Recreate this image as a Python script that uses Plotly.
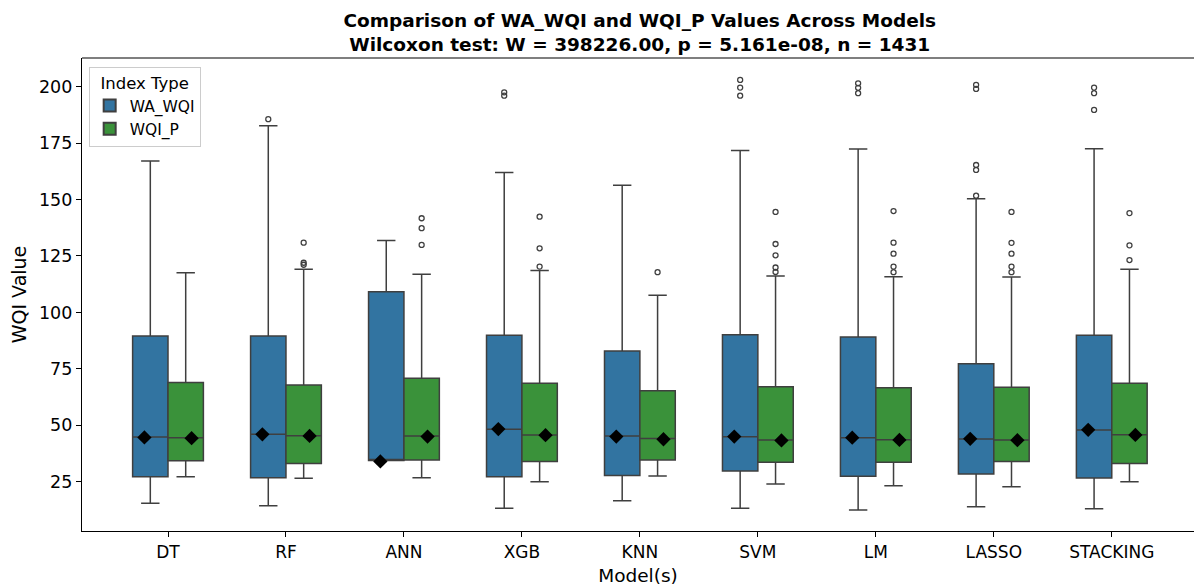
import numpy as np
import plotly.graph_objects as go

# Models compared
models = ["DT", "RF", "ANN", "XGB", "KNN", "SVM", "LM", "LASSO", "STACKING"]

# WA_WQI box statistics per model
wa_q1 = [27.2, 26.8, 34.4, 27.2, 27.7, 29.7, 27.4, 28.4, 26.6]
wa_median = [44.8, 46.0, 34.4, 48.2, 45.2, 44.9, 44.5, 43.9, 47.9]
wa_q3 = [89.6, 89.6, 109.2, 89.9, 82.9, 90.1, 89.1, 77.3, 89.9]
wa_lower = [15.4, 14.4, 34.4, 13.2, 16.6, 13.2, 12.5, 13.9, 13.0]
wa_upper = [167.1, 182.7, 131.9, 162.0, 156.3, 171.7, 172.4, 150.4, 172.5]
wa_mean = [44.6, 46.0, 34.0, 48.3, 45.0, 45.0, 44.5, 44.0, 48.0]
wa_outliers = [
    [],
    [185.6],
    [],
    [197.5, 196.0],
    [],
    [203.0, 199.6, 196.0],
    [201.5, 199.5, 197.1],
    [200.8, 199.0, 165.3, 163.1, 151.7],
    [199.6, 197.1, 189.7],
]

# WQI_P box statistics per model
p_q1 = [34.3, 33.1, 34.6, 33.9, 34.6, 33.6, 33.6, 33.9, 33.1]
p_median = [44.5, 45.4, 45.2, 45.7, 44.1, 43.5, 43.6, 43.5, 45.8]
p_q3 = [68.9, 67.8, 70.8, 68.6, 65.3, 67.1, 66.6, 66.8, 68.6]
p_lower = [27.2, 26.5, 26.8, 25.0, 27.5, 24.0, 23.2, 22.8, 25.0]
p_upper = [117.6, 119.1, 116.9, 118.6, 107.6, 116.1, 115.8, 115.7, 119.1]
p_mean = [44.3, 45.3, 45.0, 45.6, 43.8, 43.3, 43.5, 43.4, 45.7]
p_outliers = [
    [],
    [130.9, 122.0, 121.1],
    [141.7, 137.3, 129.9],
    [142.4, 128.4, 120.3],
    [117.8],
    [144.5, 130.3, 125.3, 119.9, 117.9],
    [144.9, 130.9, 126.0, 120.3, 117.8],
    [144.5, 130.8, 126.0, 120.3, 117.8],
    [144.0, 129.7, 123.2],
]

y_ticks = [25, 50, 75, 100, 125, 150, 175, 200]

BLUE = "#3274a1"
GREEN = "#3a923a"
EDGE = "#3f3f3f"
FONT = "DejaVu Sans"
BOX_W = 0.3       # width of each box (category units)
BOX_OFF = 0.15    # box dodge from category centre
MEAN_OFF = 0.2    # dodge of the mean markers

idx = np.arange(len(models))

series = [
    ("WA_WQI", BLUE, -1, wa_q1, wa_median, wa_q3, wa_lower, wa_upper, wa_mean, wa_outliers),
    ("WQI_P", GREEN, 1, p_q1, p_median, p_q3, p_lower, p_upper, p_mean, p_outliers),
]

fig = go.Figure()

for name, color, side, q1, med, q3, lo, hi, mean, outl in series:
    pos = idx + side * BOX_OFF
    fig.add_trace(go.Box(
        name=name,
        x=pos,
        q1=q1, median=med, q3=q3,
        lowerfence=lo, upperfence=hi,
        width=BOX_W,
        whiskerwidth=0.52,
        fillcolor=color,
        line=dict(color=EDGE, width=1.5),
        boxpoints=False,
        hoverinfo="skip",
    ))
    ox, oy = [], []
    for p, vals in zip(pos, outl):
        ox += [p] * len(vals)
        oy += vals
    fig.add_trace(go.Scatter(
        x=ox, y=oy, mode="markers", showlegend=False, hoverinfo="skip",
        marker=dict(symbol="circle-open", size=5, color=EDGE, line=dict(width=1.3)),
    ))

for name, color, side, q1, med, q3, lo, hi, mean, outl in series:
    fig.add_trace(go.Scatter(
        x=idx + side * MEAN_OFF, y=mean, mode="markers", showlegend=False,
        hoverinfo="skip",
        marker=dict(symbol="diamond", size=11, color="black"),
    ))

fig.update_layout(
    width=1194, height=586,
    margin=dict(l=82, r=0, t=58, b=55),
    paper_bgcolor="white", plot_bgcolor="white",
    font=dict(family=FONT, color="black", size=16),
    title=dict(
        text="<b>Comparison of WA_WQI and WQI_P Values Across Models<br>"
             "Wilcoxon test: W = 398226.00, p = 5.161e-08, n = 1431</b>",
        x=0.5358, xref="container", xanchor="center",
        y=0.954, yref="container", yanchor="bottom",
        font=dict(family=FONT, size=18.5, color="black"),
    ),
    showlegend=True,
    legend=dict(
        title=dict(text="Index Type", side="top center", font=dict(size=16.5)),
        x=0.006, y=0.982, xanchor="left", yanchor="top",
        bgcolor="rgba(255,255,255,0.85)", bordercolor="#cccccc", borderwidth=1,
        font=dict(size=15.5), itemsizing="constant", tracegroupgap=0,
    ),
    xaxis=dict(
        range=[-0.729, 8.697],
        tickvals=list(idx), ticktext=models,
        showline=True, linecolor="black", linewidth=1.2,
        ticks="outside", ticklen=5, tickcolor="black",
        showgrid=False, zeroline=False,
        tickfont=dict(size=17),
        title=dict(text="Model(s)", font=dict(size=18.5), standoff=8),
    ),
    yaxis=dict(
        range=[3.16, 212.7],
        tickvals=y_ticks,
        showline=True, linecolor="black", linewidth=1.2,
        ticks="outside", ticklen=5, tickcolor="black",
        showgrid=False, zeroline=False,
        tickfont=dict(size=17.5),
        title=dict(text="WQI Value", font=dict(size=19), standoff=7),
    ),
    shapes=[dict(type="line", xref="paper", yref="paper", x0=0, x1=1, y0=1, y1=1,
                 line=dict(color="black", width=1.2))],
)

fig.write_html("out.html")
